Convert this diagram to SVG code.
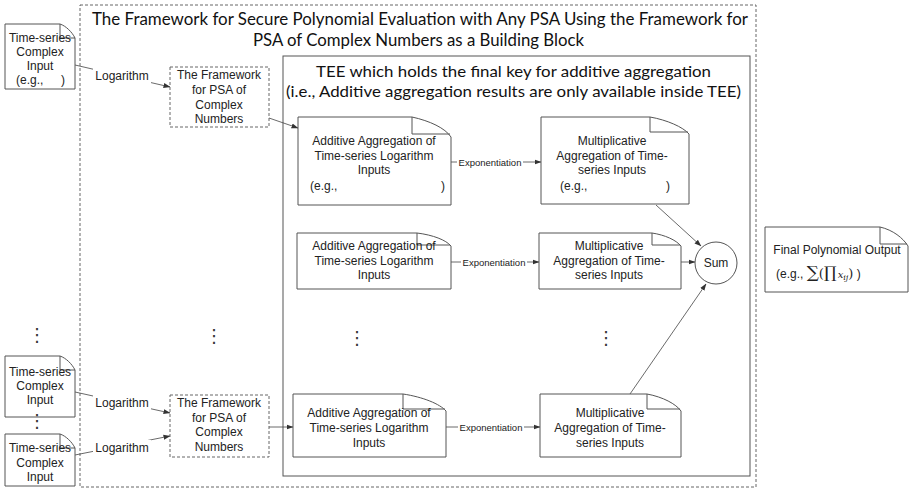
<svg xmlns="http://www.w3.org/2000/svg" width="909" height="494" viewBox="0 0 909 494">
<style>
.note{fill:#fff;stroke:#555;stroke-width:1}
.fold{fill:none;stroke:#555;stroke-width:1}
.dash{fill:#fff;stroke:#666;stroke-width:1;stroke-dasharray:3,2}
.box{fill:#fff;stroke:#555;stroke-width:1}
.t{font-family:"Liberation Sans",Arial,sans-serif;font-size:12px;fill:#222;text-anchor:middle}
.tl{font-family:"Liberation Sans",Arial,sans-serif;font-size:12px;fill:#222}
.small{font-family:"Liberation Sans",Arial,sans-serif;font-size:9.5px;fill:#222;text-anchor:middle}
.big{font-family:Lato,"Open Sans",sans-serif;fill:#111}
.dots{font-family:"DejaVu Sans",sans-serif;font-size:18px;fill:#333;text-anchor:middle}
.conn{stroke:#444;stroke-width:0.8;fill:none}
.arr{marker-end:url(#ah)}
.lbg{fill:#fff;stroke:none}
.m{font-family:"DejaVu Serif","Liberation Serif",serif}
</style>
<defs>
<marker id="ah" markerWidth="7" markerHeight="6" refX="6.5" refY="3" orient="auto" markerUnits="userSpaceOnUse">
<path d="M0,0.5 L7,3 L0,5.5 Z" fill="#333"/>
</marker>
</defs>
<rect width="909" height="494" fill="#fff"/>

<g id="outer-frame">
<rect class="dash" x="80" y="5" width="676" height="482" fill="none"/>
<text class="big" font-size="17.5" x="92" y="25" textLength="656" lengthAdjust="spacingAndGlyphs">The Framework for Secure Polynomial Evaluation with Any PSA Using the Framework for</text>
<text class="big" font-size="17.5" x="253" y="46" textLength="331" lengthAdjust="spacingAndGlyphs">PSA of Complex Numbers as a Building Block</text>
</g>

<g id="tee">
<rect class="box" x="283" y="56" width="467" height="420"/>
<text class="big" font-size="16" x="316" y="77" textLength="395" lengthAdjust="spacingAndGlyphs">TEE which holds the final key for additive aggregation</text>
<text class="big" font-size="16" x="286" y="97" textLength="455" lengthAdjust="spacingAndGlyphs">(i.e., Additive aggregation results are only available inside TEE)</text>
</g>

<g id="connectors">
<line class="conn arr" x1="75" y1="65" x2="170" y2="87"/>
<line class="conn arr" x1="75" y1="392" x2="170" y2="413"/>
<line class="conn arr" x1="75" y1="455" x2="170" y2="436"/>
<line class="conn arr" x1="269" y1="118" x2="298" y2="128"/>
<line class="conn arr" x1="269" y1="427" x2="293" y2="427"/>
<line class="conn arr" x1="451" y1="162" x2="541" y2="162"/>
<line class="conn arr" x1="451" y1="262" x2="539" y2="262"/>
<line class="conn arr" x1="446" y1="427" x2="540" y2="427"/>
<line class="conn arr" x1="656" y1="205" x2="701" y2="246"/>
<line class="conn arr" x1="681" y1="262" x2="695" y2="262"/>
<line class="conn arr" x1="630" y1="394" x2="706" y2="284"/>
<rect class="lbg" x="93" y="68" width="58" height="16"/>
<text class="t" x="122" y="80">Logarithm</text>
<rect class="lbg" x="93" y="395" width="58" height="16"/>
<text class="t" x="122" y="407">Logarithm</text>
<rect class="lbg" x="93" y="440" width="58" height="16"/>
<text class="t" x="122" y="452">Logarithm</text>
<rect class="lbg" x="457" y="155" width="66" height="14"/>
<text class="small" x="490" y="165.5">Exponentiation</text>
<rect class="lbg" x="461" y="255" width="66" height="14"/>
<text class="small" x="494" y="265.5">Exponentiation</text>
<rect class="lbg" x="458" y="420" width="66" height="14"/>
<text class="small" x="491" y="430.5">Exponentiation</text>
</g>

<g id="input1">
<path class="note" d="M5,24 H60 C66,26 72,32 75,38 V89 H5 Z"/>
<path class="fold" d="M60,24 V38 H75"/>
<text class="t" x="40" y="42">Time-series</text>
<text class="t" x="40" y="56">Complex</text>
<text class="t" x="40" y="70">Input</text>
<text class="tl" x="16" y="84">(e.g.,</text>
<text class="tl" x="61" y="84">)</text>
</g>

<g id="input2">
<path class="note" d="M5,356 H60 C66,358 72,364 75,370 V417 H5 Z"/>
<path class="fold" d="M60,356 V370 H75"/>
<text class="t" x="40" y="376">Time-series</text>
<text class="t" x="40" y="390">Complex</text>
<text class="t" x="40" y="404">Input</text>
</g>

<g id="input3">
<path class="note" d="M5,434 H60 C66,436 72,442 75,448 V486 H5 Z"/>
<path class="fold" d="M60,434 V448 H75"/>
<text class="t" x="40" y="452">Time-series</text>
<text class="t" x="40" y="467">Complex</text>
<text class="t" x="40" y="481">Input</text>
</g>

<g id="ellipses">
<text class="dots" x="37" y="341">⋮</text>
<text class="dots" x="37" y="427" font-size="10">⋮</text>
<text class="dots" x="214" y="342">⋮</text>
<text class="dots" x="357" y="344">⋮</text>
<text class="dots" x="606" y="344">⋮</text>
</g>

<g id="framework1">
<rect class="dash" x="170" y="67" width="99" height="60"/>
<text class="t" x="219" y="79">The Framework</text>
<text class="t" x="219" y="94">for PSA of</text>
<text class="t" x="219" y="109">Complex</text>
<text class="t" x="219" y="123">Numbers</text>
</g>

<g id="framework2">
<rect class="dash" x="170" y="395" width="99" height="62"/>
<text class="t" x="219" y="407">The Framework</text>
<text class="t" x="219" y="422">for PSA of</text>
<text class="t" x="219" y="436">Complex</text>
<text class="t" x="219" y="451">Numbers</text>
</g>

<g id="add1">
<path class="note" d="M298,117 H412 C430,121 445,128 451,137 V205 H298 Z"/>
<path class="fold" d="M412,117 V134 H450"/>
<text class="t" x="374" y="145">Additive Aggregation of</text>
<text class="t" x="374" y="160">Time-series Logarithm</text>
<text class="t" x="374" y="174">Inputs</text>
<text class="tl" x="310" y="190">(e.g.,</text>
<text class="tl" x="441" y="190">)</text>
</g>

<g id="mul1">
<path class="note" d="M541,117 H650 C667,120 683,127 689,134 V204 H541 Z"/>
<path class="fold" d="M650,117 V132 H688"/>
<text class="t" x="612" y="145">Multiplicative</text>
<text class="t" x="612" y="160">Aggregation of Time-</text>
<text class="t" x="612" y="174">series Inputs</text>
<text class="tl" x="560" y="190">(e.g.,</text>
<text class="tl" x="666" y="190">)</text>
</g>

<g id="add2">
<path class="note" d="M297,233 H417 C433,235 446,240 451,246 V289 H297 Z"/>
<path class="fold" d="M417,233 V245 H450"/>
<text class="t" x="374" y="250">Additive Aggregation of</text>
<text class="t" x="374" y="265">Time-series Logarithm</text>
<text class="t" x="374" y="279">Inputs</text>
</g>

<g id="mul2">
<path class="note" d="M539,233 H652 C665,235 676,240 681,246 V289 H539 Z"/>
<path class="fold" d="M652,233 V245 H680"/>
<text class="t" x="609" y="250">Multiplicative</text>
<text class="t" x="609" y="265">Aggregation of Time-</text>
<text class="t" x="609" y="279">series Inputs</text>
</g>

<g id="add3">
<path class="note" d="M293,394 H403 C423,397 440,404 446,411 V457 H293 Z"/>
<path class="fold" d="M403,394 V409 H445"/>
<text class="t" x="369" y="417">Additive Aggregation of</text>
<text class="t" x="369" y="432">Time-series Logarithm</text>
<text class="t" x="369" y="447">Inputs</text>
</g>

<g id="mul3">
<path class="note" d="M540,394 H647 C663,397 676,404 681,411 V457 H540 Z"/>
<path class="fold" d="M647,394 V409 H680"/>
<text class="t" x="610" y="417">Multiplicative</text>
<text class="t" x="610" y="432">Aggregation of Time-</text>
<text class="t" x="610" y="447">series Inputs</text>
</g>

<g id="sum">
<circle cx="716" cy="263" r="21" fill="#fff" stroke="#555" stroke-width="1"/>
<text class="t" x="716" y="267">Sum</text>
</g>

<g id="final-output">
<path class="note" d="M765,227 H880 C893,230 903,238 908,246 V292 H765 Z"/>
<path class="fold" d="M880,227 V244 H907"/>
<text class="t" x="837" y="254">Final Polynomial Output</text>
<text class="tl" x="776" y="278">(e.g., <tspan class="m" font-size="17">∑</tspan><tspan class="m" font-size="13">(</tspan><tspan class="m" font-size="16">∏</tspan><tspan class="m" font-style="italic" font-size="10" dx="1">x</tspan><tspan class="m" font-style="italic" font-size="8" dy="2">ij</tspan><tspan class="m" font-size="13" dy="-2">)</tspan> )</text>
</g>
</svg>
